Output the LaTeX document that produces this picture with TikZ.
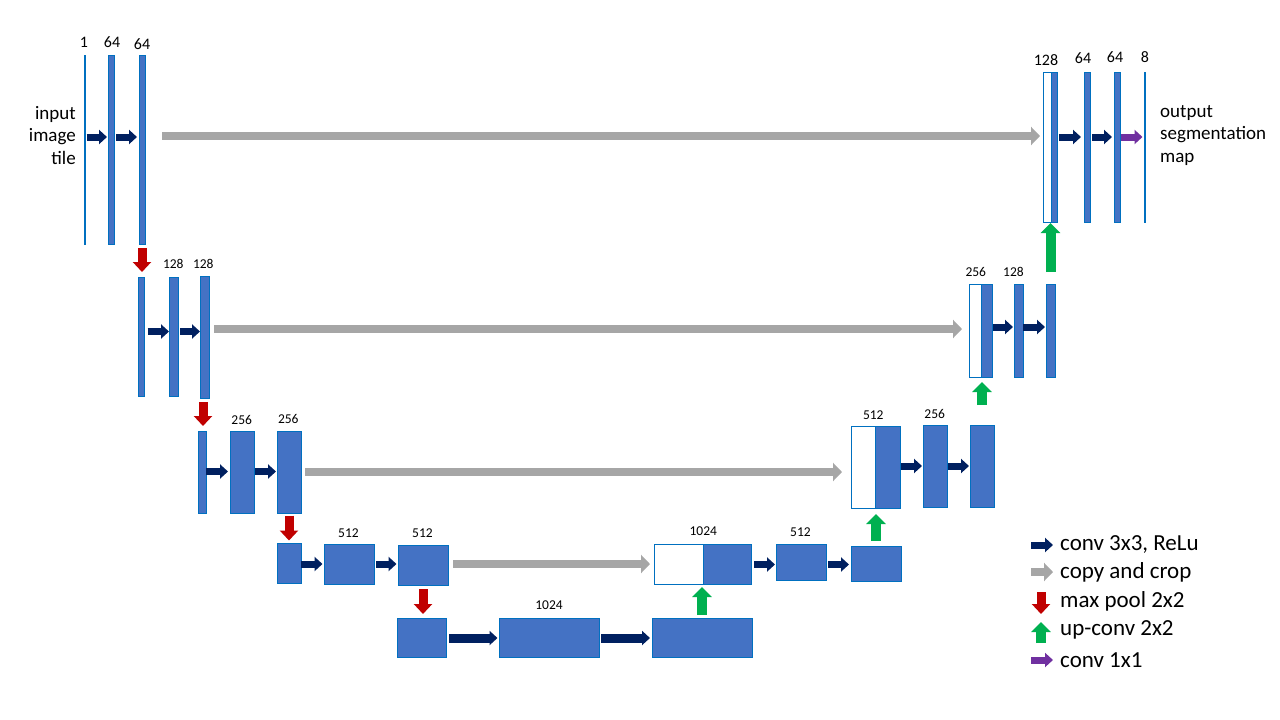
\documentclass[tikz,border=0pt]{standalone}
\usepackage{fontspec}
\setmainfont{Carlito}
\usetikzlibrary{arrows.meta,fit}
\definecolor{boxfill}{HTML}{4472C4}
\definecolor{boxline}{HTML}{0070C0}
\definecolor{cnavy}{HTML}{002060}
\definecolor{cgray}{HTML}{A6A6A6}
\definecolor{cred}{HTML}{C00000}
\definecolor{cgreen}{HTML}{00B050}
\definecolor{cpurple}{HTML}{7030A0}
\begin{document}
\begin{tikzpicture}[x=1pt,y=-1pt,
  ubox/.style={draw=boxline, fill=boxfill, line width=1pt, inner sep=0pt, outer sep=0pt},
  wbox/.style={draw=boxline, fill=white, line width=1pt, inner sep=0pt, outer sep=0pt},
  thinbar/.style={draw=boxline, line width=1pt, inner sep=0pt, outer sep=0pt},
  conv/.style={draw=cnavy, line width=7pt, -{Triangle[length=8pt,width=14pt]}},
  convthick/.style={draw=cnavy, line width=9pt, -{Triangle[length=8pt,width=14pt]}},
  copyarr/.style={draw=cgray, line width=8pt, -{Triangle[length=9pt,width=18pt]}},
  pool/.style={draw=cred, line width=9pt, -{Triangle[length=10pt,width=18pt]}},
  upconv/.style={draw=cgreen, line width=10pt, -{Triangle[length=10pt,width=19pt]}},
  conva/.style={draw=cpurple, line width=7pt, -{Triangle[length=8pt,width=14pt]}},
  lbig/.style={inner sep=0pt, font=\fontsize{16}{18}\selectfont},
  lsmall/.style={inner sep=0pt, font=\fontsize{13.5}{15}\selectfont},
  side/.style={inner sep=0pt, font=\fontsize{19}{22.3}\selectfont},
  legtext/.style={inner sep=0pt, anchor=west, font=\fontsize{23}{26}\selectfont}
]
\useasboundingbox (0,0) rectangle (1280,720);

% ---------- level 1 (left)
\node[thinbar, fit={(84.5,55) (84.5,244)}] (a1) {};
\node[ubox, fit={(108,55) (114,244)}] (a2) {};
\node[ubox, fit={(139,55) (145,244)}] (a3) {};
% ---------- level 2 (left)
\node[ubox, fit={(138,277) (144,396)}] (b1) {};
\node[ubox, fit={(169,277) (178,396)}] (b2) {};
\node[ubox, fit={(200,276) (209,398)}] (b3) {};
% ---------- level 3 (left)
\node[ubox, fit={(198,431) (206,513)}] (c1) {};
\node[ubox, fit={(230,431) (254,513)}] (c2) {};
\node[ubox, fit={(277,431) (301,513)}] (c3) {};
% ---------- level 4 (left)
\node[ubox, fit={(277,543) (301,583)}] (d1) {};
\node[ubox, fit={(324,544) (374,584)}] (d2) {};
\node[ubox, fit={(398,545) (448,585)}] (d3) {};
% ---------- level 5
\node[ubox, fit={(397,618) (446,657)}] (e1) {};
\node[ubox, fit={(499,618) (599,657)}] (e2) {};
\node[ubox, fit={(652,618) (752,657)}] (e3) {};
% ---------- level 4 (right)
\node[wbox, fit={(654,544) (703,584)}] (f1w) {};
\node[ubox, fit={(703,544) (751,584)}] (f1) {};
\node[ubox, fit={(776,544) (826,580)}] (f2) {};
\node[ubox, fit={(851,546) (901,581)}] (f3) {};
% ---------- level 3 (right)
\node[wbox, fit={(851,426) (875,508)}] (g1w) {};
\node[ubox, fit={(875,426) (900,508)}] (g1) {};
\node[ubox, fit={(923,425) (947,507)}] (g2) {};
\node[ubox, fit={(970,425) (994,507)}] (g3) {};
% ---------- level 2 (right)
\node[wbox, fit={(969,284) (981,377)}] (h1w) {};
\node[ubox, fit={(981,284) (992,377)}] (h1) {};
\node[ubox, fit={(1014,284) (1023,377)}] (h2) {};
\node[ubox, fit={(1046,284) (1055,377)}] (h3) {};
% ---------- level 1 (right)
\node[wbox, fit={(1043,72) (1051,222)}] (k1w) {};
\node[ubox, fit={(1051,72) (1057,222)}] (k1) {};
\node[ubox, fit={(1084,72) (1090,222)}] (k2) {};
\node[ubox, fit={(1114,72) (1120,222)}] (k3) {};
\node[thinbar, fit={(1144.5,72) (1144.5,222)}] (k4) {};

% ---------- row coordinates
\coordinate (r1) at (0,137);
\coordinate (r1c) at (0,136);
\coordinate (r2l) at (0,331.5);
\coordinate (r2c) at (0,329);
\coordinate (r2r) at (0,327);
\coordinate (r3l) at (0,471.5);
\coordinate (r3c) at (0,472);
\coordinate (r3r) at (0,466);
\coordinate (r4) at (0,564);
\coordinate (r4r) at (0,564.5);
\coordinate (r5) at (0,638);

% ---------- conv 3x3 arrows
\draw[conv, shorten <=1.5pt, shorten >=1pt] (a1.east |- r1) -- (a2.west |- r1);
\draw[conv, shorten <=2pt, shorten >=2pt] (a2.east |- r1) -- (a3.west |- r1);
\draw[conv, shorten <=2pt, shorten >=3pt] (k1.east |- r1) -- (k2.west |- r1);
\draw[conv, shorten <=2pt, shorten >=2pt] (k2.east |- r1) -- (k3.west |- r1);
\draw[conva, shorten <=1pt, shorten >=1.5pt] (k3.east |- r1) -- (k4.west |- r1);

\draw[conv, shorten <=3.5pt] (b1.east |- r2l) -- (b2.west |- r2l);
\draw[conv, shorten <=2pt] (b2.east |- r2l) -- (b3.west |- r2l);
\draw[conv, shorten <=1pt, shorten >=1pt] (h1.east |- r2r) -- (h2.west |- r2r);
\draw[conv, shorten >=1pt] (h2.east |- r2r) -- (h3.west |- r2r);

\draw[conv, shorten >=2pt] (c1.east |- r3l) -- (c2.west |- r3l);
\draw[conv, shorten <=1pt, shorten >=1pt] (c2.east |- r3l) -- (c3.west |- r3l);
\draw[conv, shorten <=1pt, shorten >=1pt] (g1.east |- r3r) -- (g2.west |- r3r);
\draw[conv, shorten <=1pt, shorten >=1pt] (g2.east |- r3r) -- (g3.west |- r3r);

\draw[conv, shorten >=1.5pt] (d1.east |- r4) -- (d2.west |- r4);
\draw[conv, shorten <=2pt, shorten >=1.5pt] (d2.east |- r4) -- (d3.west |- r4);
\draw[conv, shorten <=3pt, shorten >=1pt] (f1.east |- r4r) -- (f2.west |- r4r);
\draw[conv, shorten <=2pt, shorten >=2pt] (f2.east |- r4r) -- (f3.west |- r4r);

\draw[convthick, shorten <=3pt, shorten >=1.5pt] (e1.east |- r5) -- (e2.west |- r5);
\draw[convthick, shorten <=2pt, shorten >=2pt] (e2.east |- r5) -- (e3.west |- r5);

% ---------- copy and crop
\draw[copyarr, shorten <=17pt, shorten >=3pt] (a3.east |- r1c) -- (k1w.west |- r1c);
\draw[copyarr, shorten <=5pt, shorten >=7pt] (b3.east |- r2c) -- (h1w.west |- r2c);
\draw[copyarr, shorten <=4pt, shorten >=9pt] (c3.east |- r3c) -- (g1w.west |- r3c);
\draw[copyarr, shorten <=5pt, shorten >=4pt] (d3.east |- r4) -- (f1w.west |- r4);

% ---------- max pool
\draw[pool, shorten <=4pt, shorten >=5pt] (a3.south) -- (a3.south |- b1.north);
\draw[pool, shorten <=4pt, shorten >=5pt] ([xshift=-1.5pt]b3.south) -- ([xshift=-1.5pt]b3.south |- c1.north);
\draw[pool, shorten <=2.5pt, shorten >=2.5pt] (c3.south) -- (c3.south |- d1.north);
\draw[pool, shorten <=4pt, shorten >=4pt] (d3.south) -- (d3.south |- e1.north);

% ---------- up-conv
\draw[upconv, shorten <=3pt, shorten >=3pt] (e3.north) -- (e3.north |- f1.south);
\draw[upconv, shorten <=5pt, shorten >=6pt] (f3.north) -- (f3.north |- g1.south);
\draw[upconv, shorten <=20pt, shorten >=5pt] (g3.north) -- (g3.north |- h1.south);
\draw[upconv, shorten <=12pt, shorten >=1pt] (h3.north) -- (h3.north |- k1.south);

% ---------- labels
\node[lbig] (t1) at (84,42) {1};
\node[lbig] (t2) at (112,42) {64};
\node[lbig] (t3) at (142,44) {64};
\node[lbig] (t4) at (1046,60) {128};
\node[lbig] (t5) at (1083,58) {64};
\node[lbig] (t6) at (1115,57.5) {64};
\node[lbig] (t7) at (1145,57.5) {8};
\node[lsmall] (t8) at (173.3,264.2) {128};
\node[lsmall] (t9) at (203.3,264.2) {128};
\node[lsmall] (t10) at (975.8,271.5) {256};
\node[lsmall] (t11) at (1013.5,271.5) {128};
\node[lsmall] (t12) at (241.7,420) {256};
\node[lsmall] (t13) at (288.3,418.7) {256};
\node[lsmall] (t14) at (873.3,415.2) {512};
\node[lsmall] (t15) at (934.7,413.8) {256};
\node[lsmall] (t16) at (348.5,533.3) {512};
\node[lsmall] (t17) at (422.5,533.3) {512};
\node[lsmall] (t18) at (703.3,530.7) {1024};
\node[lsmall] (t19) at (800.5,532) {512};
\node[lsmall] (t20) at (549,605.2) {1024};

\node[side, align=right, anchor=east] (inp) at (76,135.5) {input\\image\\tile};
\node[side, align=left, anchor=west] (outp) at (1160,135.5) {output\\segmentation\\map};

% ---------- legend
\coordinate (l1a) at (1031,545); \coordinate (l1b) at (1053,545);
\coordinate (l2a) at (1031,572); \coordinate (l2b) at (1053,572);
\coordinate (l3a) at (1041,592); \coordinate (l3b) at (1041,614);
\coordinate (l4a) at (1041,643); \coordinate (l4b) at (1041,622);
\coordinate (l5a) at (1031,660); \coordinate (l5b) at (1053,660);
\draw[conv] (l1a) -- (l1b);
\draw[copyarr] (l2a) -- (l2b);
\draw[pool] (l3a) -- (l3b);
\draw[upconv] (l4a) -- (l4b);
\draw[conva] (l5a) -- (l5b);
\node[legtext] (lg1) at (1060,545) {conv 3x3, ReLu};
\node[legtext] (lg2) at (1060,572) {copy and crop};
\node[legtext] (lg3) at (1060,601) {max pool 2x2};
\node[legtext] (lg4) at (1060,630) {up-conv 2x2};
\node[legtext] (lg5) at (1060,660) {conv 1x1};
\end{tikzpicture}
\end{document}
